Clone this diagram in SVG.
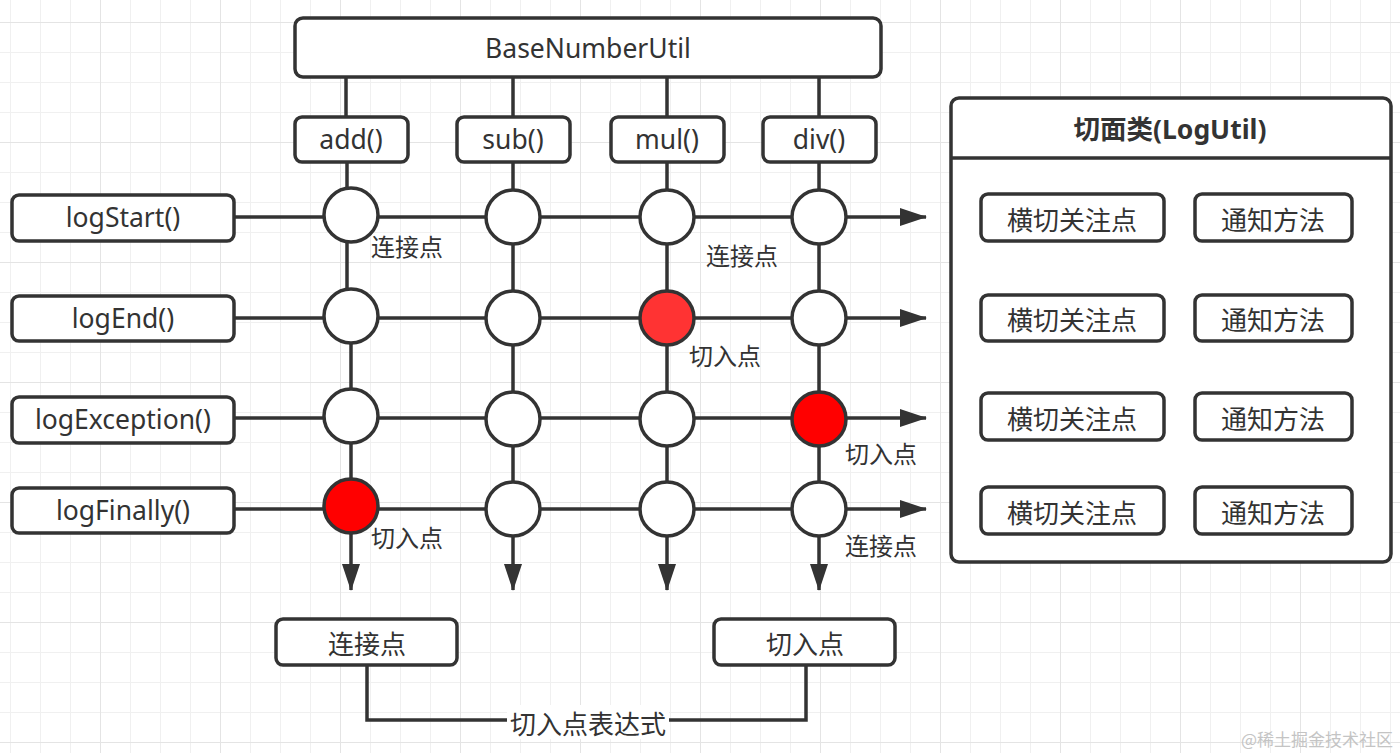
<svg xmlns="http://www.w3.org/2000/svg" width="1400" height="753" viewBox="0 0 1400 753">
  <defs>
    <pattern id="minor" width="30" height="30" patternUnits="userSpaceOnUse" x="10" y="22">
      <path d="M0,0 H30 M0,0 V30" fill="none" stroke="#f0f0f0" stroke-width="2"/>
    </pattern>
    <pattern id="major" width="120" height="120" patternUnits="userSpaceOnUse" x="100" y="22">
      <path d="M0,0 H120 M0,0 V120" fill="none" stroke="#e4e4e4" stroke-width="2"/>
    </pattern>
    <marker id="arrow" markerUnits="userSpaceOnUse" markerWidth="27" markerHeight="18" viewBox="0 0 27 18" refX="26" refY="9" orient="auto">
      <path d="M0,0 L27,9 L0,18 z" fill="#333"/>
    </marker>
    <style>
      .box { fill: #fff; stroke: #333; stroke-width: 3.5; }
      .ln { fill: none; stroke: #333; stroke-width: 3.5; }
      .pt { fill: #fff; stroke: #333; stroke-width: 3.5; }
      .hit { fill: #ff0000; stroke: #333; stroke-width: 3.5; }
      .hit2 { fill: #ff3333; stroke: #333; stroke-width: 3.5; }
      .t { font-family: "Noto Sans", "Noto Sans CJK SC", sans-serif; font-size: 26.5px; fill: #333; text-anchor: middle; dominant-baseline: central; }
      .c { font-family: "Noto Sans CJK SC", sans-serif; font-size: 26px; fill: #333; text-anchor: middle; dominant-baseline: central; }
      .lbl { font-family: "Noto Sans CJK SC", sans-serif; font-size: 24px; fill: #333; dominant-baseline: central; }
      .title { font-family: "Noto Sans", "Noto Sans CJK SC", sans-serif; font-size: 26.5px; font-weight: bold; fill: #333; text-anchor: middle; dominant-baseline: central; }
    </style>
  </defs>

  <rect width="1400" height="753" fill="#fff"/>
  <rect width="1400" height="753" fill="url(#minor)"/>
  <rect width="1400" height="753" fill="url(#major)"/>

  <g id="connectors">
    <path class="ln" d="M346,77 V117 M513,77 V117 M667,77 V117 M819,77 V117"/>
    <path class="ln" d="M234,217 H926" marker-end="url(#arrow)"/>
    <path class="ln" d="M234,318 H926" marker-end="url(#arrow)"/>
    <path class="ln" d="M234,418 H926" marker-end="url(#arrow)"/>
    <path class="ln" d="M234,509 H926" marker-end="url(#arrow)"/>
    <path class="ln" d="M347,162 V318"/>
    <path class="ln" d="M351,318 V590" marker-end="url(#arrow)"/>
    <path class="ln" d="M513,162 V590" marker-end="url(#arrow)"/>
    <path class="ln" d="M667,162 V590" marker-end="url(#arrow)"/>
    <path class="ln" d="M819,162 V590" marker-end="url(#arrow)"/>
    <path class="ln" d="M367,665 V720 H806 V665"/>
  </g>

  <g id="BaseNumberUtil">
    <rect class="box" x="295" y="18" width="586" height="59" rx="8"/>
    <text class="t" x="588" y="48">BaseNumberUtil</text>
  </g>
  <g id="add">
    <rect class="box" x="295" y="117" width="113" height="45" rx="7"/>
    <text class="t" x="351" y="139">add()</text>
  </g>
  <g id="sub">
    <rect class="box" x="457" y="117" width="113" height="45" rx="7"/>
    <text class="t" x="513" y="139">sub()</text>
  </g>
  <g id="mul">
    <rect class="box" x="611" y="117" width="113" height="45" rx="7"/>
    <text class="t" x="667" y="139">mul()</text>
  </g>
  <g id="div">
    <rect class="box" x="763" y="117" width="113" height="45" rx="7"/>
    <text class="t" x="819" y="139">div()</text>
  </g>

  <g id="logStart">
    <rect class="box" x="12" y="195" width="222" height="46" rx="7"/>
    <text class="t" x="123" y="217">logStart()</text>
  </g>
  <g id="logEnd">
    <rect class="box" x="12" y="296" width="222" height="45" rx="7"/>
    <text class="t" x="123" y="318">logEnd()</text>
  </g>
  <g id="logException">
    <rect class="box" x="12" y="397" width="222" height="46" rx="7"/>
    <text class="t" x="123" y="419">logException()</text>
  </g>
  <g id="logFinally">
    <rect class="box" x="12" y="488" width="222" height="45" rx="7"/>
    <text class="t" x="123" y="510">logFinally()</text>
  </g>

  <g id="points">
    <circle class="pt" cx="351" cy="215" r="27"/>
    <circle class="pt" cx="513" cy="217" r="27"/>
    <circle class="pt" cx="667" cy="217" r="27"/>
    <circle class="pt" cx="819" cy="217" r="27"/>

    <circle class="pt" cx="351" cy="316" r="27"/>
    <circle class="pt" cx="513" cy="318" r="27"/>
    <circle class="hit2" cx="667" cy="318" r="27"/>
    <circle class="pt" cx="819" cy="318" r="27"/>

    <circle class="pt" cx="351" cy="416" r="27"/>
    <circle class="pt" cx="513" cy="419" r="27"/>
    <circle class="pt" cx="667" cy="419" r="27"/>
    <circle class="hit" cx="819" cy="419" r="27"/>

    <circle class="hit" cx="351" cy="506" r="27"/>
    <circle class="pt" cx="513" cy="509" r="27"/>
    <circle class="pt" cx="667" cy="509" r="27"/>
    <circle class="pt" cx="819" cy="509" r="27"/>
  </g>

  <g id="labels">
    <text class="lbl" x="371" y="245">连接点</text>
    <text class="lbl" x="706" y="254">连接点</text>
    <text class="lbl" x="689" y="354">切入点</text>
    <text class="lbl" x="845" y="452">切入点</text>
    <text class="lbl" x="371" y="536">切入点</text>
    <text class="lbl" x="845" y="544">连接点</text>
  </g>

  <g id="joinpoint">
    <rect class="box" x="276" y="619" width="181" height="46" rx="7"/>
    <text class="c" x="367" y="642">连接点</text>
  </g>
  <g id="pointcut">
    <rect class="box" x="714" y="619" width="181" height="46" rx="7"/>
    <text class="c" x="805" y="642">切入点</text>
  </g>
  <g id="expression">
    <rect x="507" y="705" width="162" height="34" fill="#fff"/>
    <text class="c" x="588" y="722">切入点表达式</text>
  </g>

  <g id="LogUtil">
    <rect class="box" x="951" y="98" width="440" height="464" rx="8"/>
    <path class="ln" d="M951,158 H1391"/>
    <text class="title" x="1170" y="129">切面类(LogUtil)</text>
  </g>
  <g id="aspect-rows">
    <rect class="box" x="981" y="194" width="183" height="47" rx="7"/>
    <text class="c" x="1072" y="218">横切关注点</text>
    <rect class="box" x="1195" y="194" width="157" height="47" rx="7"/>
    <text class="c" x="1273" y="218">通知方法</text>

    <rect class="box" x="981" y="295" width="183" height="46" rx="7"/>
    <text class="c" x="1072" y="318">横切关注点</text>
    <rect class="box" x="1195" y="295" width="157" height="46" rx="7"/>
    <text class="c" x="1273" y="318">通知方法</text>

    <rect class="box" x="981" y="393" width="183" height="47" rx="7"/>
    <text class="c" x="1072" y="417">横切关注点</text>
    <rect class="box" x="1195" y="393" width="157" height="47" rx="7"/>
    <text class="c" x="1273" y="417">通知方法</text>

    <rect class="box" x="981" y="487" width="183" height="47" rx="7"/>
    <text class="c" x="1072" y="511">横切关注点</text>
    <rect class="box" x="1195" y="487" width="157" height="47" rx="7"/>
    <text class="c" x="1273" y="511">通知方法</text>
  </g>

  <text x="1393" y="738" font-family="Noto Sans CJK SC, sans-serif" font-size="17" fill="#c4c4c4" text-anchor="end" dominant-baseline="central">@稀土掘金技术社区</text>
</svg>
